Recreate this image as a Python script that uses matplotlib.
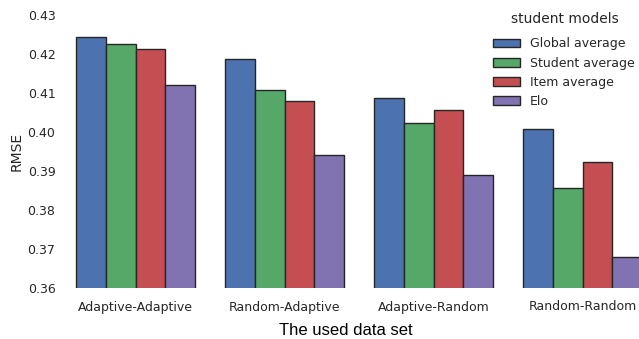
import matplotlib

matplotlib.use("Agg")
import matplotlib.pyplot as plt
import numpy as np

DATASETS = ["Adaptive-Adaptive", "Random-Adaptive", "Adaptive-Random", "Random-Random"]
MODELS = ["Global average", "Student average", "Item average", "Elo"]
COLORS = ["#4C72B0", "#55A868", "#C44E52", "#8172B2"]

global_avg = [0.4244, 0.4187, 0.4088, 0.4008]
student_avg = [0.4225, 0.4108, 0.4022, 0.3856]
item_avg = [0.4213, 0.4080, 0.4056, 0.3924]
elo = [0.4120, 0.3941, 0.3889, 0.3679]

TEXT = "#262626"

fig = plt.figure(figsize=(6.39, 3.39), dpi=100)
ax = fig.add_axes([61 / 639, 51 / 339, 596 / 639, 273 / 339])

x = np.arange(len(DATASETS))
width = 0.2
for i, (vals, name, col) in enumerate(zip([global_avg, student_avg, item_avg, elo], MODELS, COLORS)):
    ax.bar(x + (i - 1.5) * width, vals, width=width, color=col, edgecolor=TEXT,
           linewidth=1.0, label=name)

ax.set_xlim(-0.5, len(DATASETS) - 0.5)
ax.set_ylim(0.36, 0.43)
yt = np.arange(0.36, 0.4301, 0.01)
ax.set_yticks(yt, labels=[f"{v:.2f}" for v in yt])
ax.set_xticks(x, labels=DATASETS)
ax.tick_params(axis="both", length=0, labelsize=9, colors=TEXT)
ax.tick_params(axis="x", pad=9)
ax.tick_params(axis="y", pad=4)
for s in ax.spines.values():
    s.set_visible(False)

ax.set_ylabel("RMSE", fontsize=10, color=TEXT, labelpad=3)
ax.set_xlabel("The used data set", fontsize=12, family="Liberation Sans", color="black")
ax.xaxis.set_label_coords(0.478, -0.13)

# legend title drawn separately so its gap to the entries matches
fig.text(565 / 639, 1 - 19 / 339, "student models", fontsize=10, color=TEXT,
         ha="center", va="center")
leg = fig.legend(loc="upper left", bbox_to_anchor=(482 / 639, 1 - 26 / 339), frameon=False,
                 fontsize=9, handlelength=2.1, handleheight=0.7, labelspacing=0.5,
                 handletextpad=0.8)
for t in leg.get_texts():
    t.set_color(TEXT)

fig.savefig("out.png", dpi=100)
